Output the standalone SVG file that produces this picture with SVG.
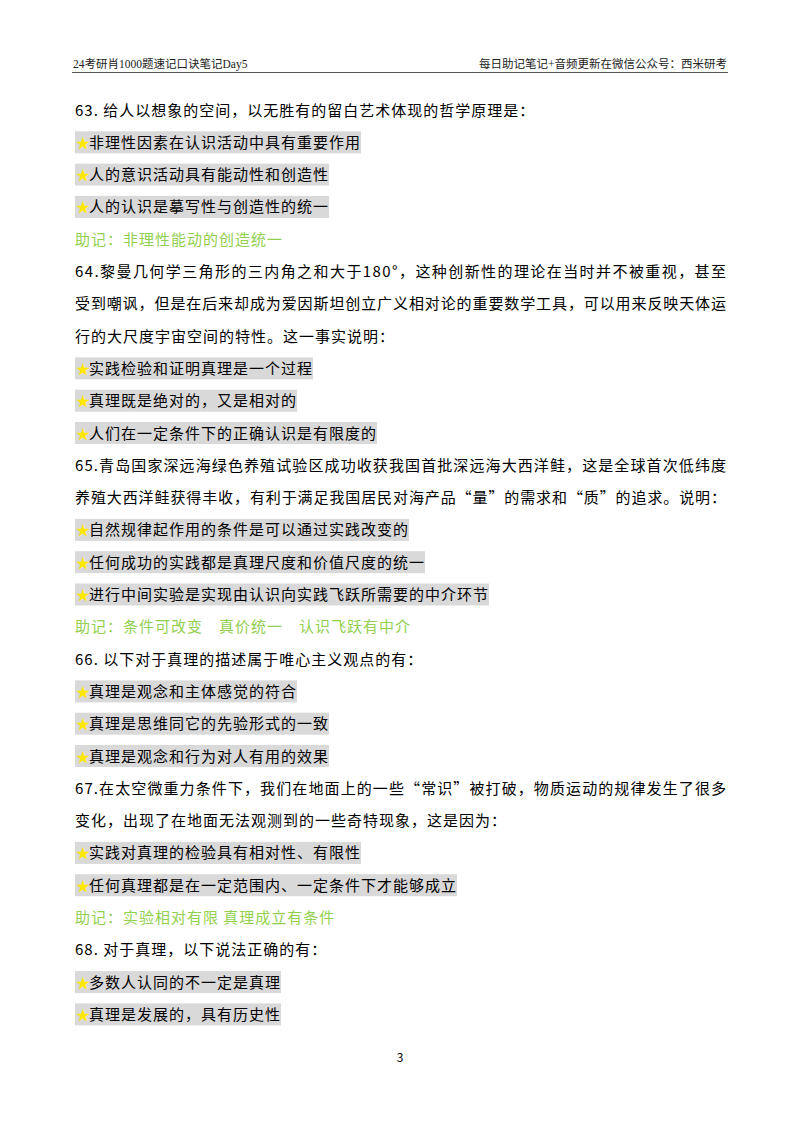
<svg xmlns="http://www.w3.org/2000/svg" width="800" height="1132" viewBox="0 0 800 1132">
<style>
text{font-family:"Noto Sans CJK SC","Noto Sans CJK JP",sans-serif;}
.t{font-size:15px;letter-spacing:1px;fill:#000}
.g{font-size:15px;letter-spacing:1px;fill:#92D050}
.h{font-size:11.5px;fill:#222;font-family:"Liberation Serif","Noto Sans CJK SC",serif}
.b{fill:#D9D9D9}
.s{font-size:14px;fill:#FFE800}
</style>
<rect width="800" height="1132" fill="#fff"/>
<g id="header">
<text class="h" x="73" y="68">24考研肖1000题速记口诀笔记Day5</text>
<text class="h" x="727" y="68" text-anchor="end">每日助记笔记+音频更新在微信公众号：西米研考</text>
<line x1="72" y1="72.5" x2="728" y2="72.5" stroke="#555" stroke-width="1"/>
</g>
<g id="q63">
<text class="t" x="75" y="115.5">63. 给人以想象的空间，以无胜有的留白艺术体现的哲学原理是：</text>
<rect class="b" x="75" y="131.3" width="286" height="22"/><text class="s" x="76" y="147.8">★</text><text class="t" x="89" y="147.8">非理性因素在认识活动中具有重要作用</text>
<rect class="b" x="75" y="163.6" width="254" height="22"/><text class="s" x="76" y="180.1">★</text><text class="t" x="89" y="180.1">人的意识活动具有能动性和创造性</text>
<rect class="b" x="75" y="195.9" width="254" height="22"/><text class="s" x="76" y="212.4">★</text><text class="t" x="89" y="212.4">人的认识是摹写性与创造性的统一</text>
<text class="g" x="75" y="244.7">助记：非理性能动的创造统一</text>
</g>
<g id="q64">
<text class="t" x="75" y="277" textLength="652" lengthAdjust="spacing">64.黎曼几何学三角形的三内角之和大于180°，这种创新性的理论在当时并不被重视，甚至</text>
<text class="t" x="75" y="309.3" textLength="652" lengthAdjust="spacing">受到嘲讽，但是在后来却成为爱因斯坦创立广义相对论的重要数学工具，可以用来反映天体运</text>
<text class="t" x="75" y="341.6">行的大尺度宇宙空间的特性。这一事实说明：</text>
<rect class="b" x="75" y="357.4" width="238" height="22"/><text class="s" x="76" y="373.9">★</text><text class="t" x="89" y="373.9">实践检验和证明真理是一个过程</text>
<rect class="b" x="75" y="389.7" width="222" height="22"/><text class="s" x="76" y="406.2">★</text><text class="t" x="89" y="406.2">真理既是绝对的，又是相对的</text>
<rect class="b" x="75" y="422" width="302" height="22"/><text class="s" x="76" y="438.5">★</text><text class="t" x="89" y="438.5">人们在一定条件下的正确认识是有限度的</text>
</g>
<g id="q65">
<text class="t" x="75" y="470.8" textLength="652" lengthAdjust="spacing">65.青岛国家深远海绿色养殖试验区成功收获我国首批深远海大西洋鲑，这是全球首次低纬度</text>
<text class="t" x="75" y="503.1" textLength="652" lengthAdjust="spacing">养殖大西洋鲑获得丰收，有利于满足我国居民对海产品“量”的需求和“质”的追求。说明：</text>
<rect class="b" x="75" y="518.9" width="334" height="22"/><text class="s" x="76" y="535.4">★</text><text class="t" x="89" y="535.4">自然规律起作用的条件是可以通过实践改变的</text>
<rect class="b" x="75" y="551.2" width="350" height="22"/><text class="s" x="76" y="567.7">★</text><text class="t" x="89" y="567.7">任何成功的实践都是真理尺度和价值尺度的统一</text>
<rect class="b" x="75" y="583.5" width="414" height="22"/><text class="s" x="76" y="600">★</text><text class="t" x="89" y="600">进行中间实验是实现由认识向实践飞跃所需要的中介环节</text>
<text class="g" x="75" y="632.3" xml:space="preserve">助记：条件可改变　真价统一　认识飞跃有中介</text>
</g>
<g id="q66">
<text class="t" x="75" y="664.6">66. 以下对于真理的描述属于唯心主义观点的有：</text>
<rect class="b" x="75" y="680.4" width="222" height="22"/><text class="s" x="76" y="696.9">★</text><text class="t" x="89" y="696.9">真理是观念和主体感觉的符合</text>
<rect class="b" x="75" y="712.7" width="254" height="22"/><text class="s" x="76" y="729.2">★</text><text class="t" x="89" y="729.2">真理是思维同它的先验形式的一致</text>
<rect class="b" x="75" y="745" width="254" height="22"/><text class="s" x="76" y="761.5">★</text><text class="t" x="89" y="761.5">真理是观念和行为对人有用的效果</text>
</g>
<g id="q67">
<text class="t" x="75" y="793.8" textLength="652" lengthAdjust="spacing">67.在太空微重力条件下，我们在地面上的一些“常识”被打破，物质运动的规律发生了很多</text>
<text class="t" x="75" y="826.1">变化，出现了在地面无法观测到的一些奇特现象，这是因为：</text>
<rect class="b" x="75" y="841.9" width="286" height="22"/><text class="s" x="76" y="858.4">★</text><text class="t" x="89" y="858.4">实践对真理的检验具有相对性、有限性</text>
<rect class="b" x="75" y="874.2" width="382" height="22"/><text class="s" x="76" y="890.7">★</text><text class="t" x="89" y="890.7">任何真理都是在一定范围内、一定条件下才能够成立</text>
<text class="g" x="75" y="923">助记：实验相对有限 真理成立有条件</text>
</g>
<g id="q68">
<text class="t" x="75" y="955.3">68. 对于真理，以下说法正确的有：</text>
<rect class="b" x="75" y="971.1" width="206" height="22"/><text class="s" x="76" y="987.6">★</text><text class="t" x="89" y="987.6">多数人认同的不一定是真理</text>
<rect class="b" x="75" y="1003.4" width="206" height="22"/><text class="s" x="76" y="1019.9">★</text><text class="t" x="89" y="1019.9">真理是发展的，具有历史性</text>
</g>
<text x="400" y="1062" text-anchor="middle" font-family="Liberation Sans,sans-serif" font-size="12">3</text>
</svg>
